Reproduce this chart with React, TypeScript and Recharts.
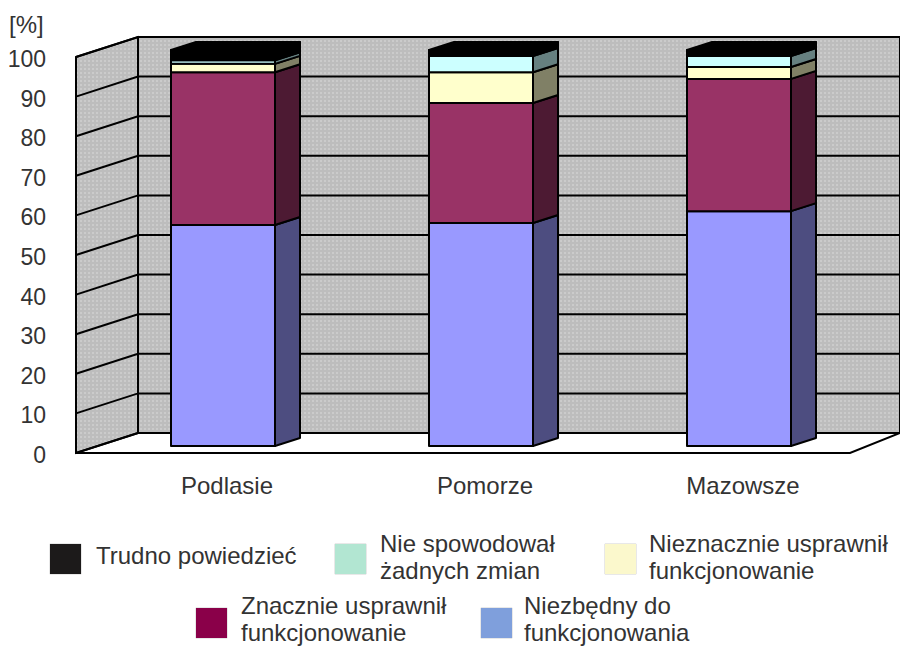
import { BarChart, Bar, XAxis, YAxis, CartesianGrid, Legend } from "recharts";

const regions = ["Podlasie", "Pomorze", "Mazowsze"];
const niezbedny = [55.8, 56.3, 59.3];
const znacznie = [38.6, 30.3, 33.4];
const nieznacznie = [2.1, 7.8, 3.0];
const nieSpowodowal = [0.9, 4.1, 2.8];
const trudno = [2.6, 1.5, 1.5];
const yTicks = [0, 10, 20, 30, 40, 50, 60, 70, 80, 90, 100];

const seriesKeys = ["niezbedny", "znacznie", "nieznacznie", "nieSpowodowal", "trudno"];
const frontColors = ["#9999ff", "#993366", "#ffffcc", "#ccffff", "#000000"];
const sideColors = ["#4d4d80", "#4d1a33", "#808066", "#668080", "#000000"];

const legendRows = [
  { label: ["Trudno powiedzieć"], color: "#1c1a1a", left: 50, top: 544, textTop: 542, textLeft: 96 },
  { label: ["Nie spowodował", "żadnych zmian"], color: "#b2e6d2", left: 335, top: 544, textTop: 530, textLeft: 380 },
  { label: ["Nieznacznie usprawnił", "funkcjonowanie"], color: "#fbf8cc", left: 605, top: 544, textTop: 530, textLeft: 649 },
  { label: ["Znacznie usprawnił", "funkcjonowanie"], color: "#8a0049", left: 196, top: 608, textTop: 592, textLeft: 241 },
  { label: ["Niezbędny do", "funkcjonowania"], color: "#7f9fdc", left: 481, top: 608, textTop: 592, textLeft: 524 },
];

const data = regions.map((name, i) => ({
  name,
  niezbedny: niezbedny[i],
  znacznie: znacznie[i],
  nieznacznie: nieznacznie[i],
  nieSpowodowal: nieSpowodowal[i],
  trudno: trudno[i],
}));

const FONT = "'Liberation Sans', Arial, sans-serif";
const TEXT = "#333333";

// fake 3d offsets: bars stand part way into the box
const BAR_DX = 25;
const BAR_DY = 8;
const LEFT_X = 76;
const BACK_X = 138;
const FRONT_SHIFT = 7;
const BACK_SHIFT = 13;

const Block = (props: any, index: number) => {
  const { x, y, width, height } = props;
  const r = x + width;
  const b = y + height;
  return (
    <g stroke="#000" strokeWidth={2} strokeLinejoin="round">
      <polygon
        points={`${r},${y} ${r + BAR_DX},${y - BAR_DY} ${r + BAR_DX},${b - BAR_DY} ${r},${b}`}
        fill={sideColors[index]}
      />
      {index === 4 && (
        <polygon
          points={`${x},${y} ${x + BAR_DX},${y - BAR_DY} ${r + BAR_DX},${y - BAR_DY} ${r},${y}`}
          fill="#000"
        />
      )}
      <rect x={x} y={y} width={width} height={height} fill={frontColors[index]} />
    </g>
  );
};

// one gridline: runs up the side wall and along the back wall
// the first one also paints the walls, so they sit under all the lines
const WallLine = (props: any) => {
  const y = props.y1;
  return (
    <g key={props.key}>
      {props.index === 0 && (
        <g>
          <polygon points="138,37 900,37 900,433 138,433" fill="url(#wall)" stroke="#000" strokeWidth={2} />
          <polygon points="76,57 138,37 138,433 76,453" fill="url(#wall)" stroke="#000" strokeWidth={2} />
          <polyline points="76,453 850,453 900,433" fill="none" stroke="#000" strokeWidth={2} />
        </g>
      )}
      <polyline
        points={`${LEFT_X},${y + FRONT_SHIFT} ${BACK_X},${y - BACK_SHIFT} 900,${y - BACK_SHIFT}`}
        fill="none"
        stroke="#000"
        strokeWidth={2}
      />
    </g>
  );
};

const YTick = ({ y, payload }: any) => (
  <text x={46} y={y + FRONT_SHIFT + 10} textAnchor="end" fontSize={23} fontFamily={FONT} fill={TEXT}>
    {payload.value}
  </text>
);

const ChartLegend = () => (
  <div>
    {legendRows.map(item => (
      <div key={item.label[0]}>
        <div
          style={{
            position: "absolute",
            left: item.left,
            top: item.top,
            width: 31,
            height: 30,
            background: item.color,
            boxShadow: "0 0 1px #777",
          }}
        />
        <div
          style={{
            position: "absolute",
            left: item.textLeft,
            top: item.textTop,
            fontFamily: FONT,
            fontSize: 24,
            lineHeight: "27px",
            color: TEXT,
            whiteSpace: "nowrap",
            textAlign: "left",
          }}
        >
          {item.label.map(line => (
            <div key={line}>{line}</div>
          ))}
        </div>
      </div>
    ))}
  </div>
);

export default function App() {
  return (
    <div style={{ position: "absolute", left: 0, top: 0, width: 900, height: 646, overflow: "hidden", background: "#fff" }}>
      <div style={{ position: "absolute", left: 9, top: 11, fontFamily: FONT, fontSize: 24, color: TEXT }}>[%]</div>
      <BarChart
        width={900}
        height={646}
        data={data}
        margin={{ top: 50, right: 32, bottom: 170, left: 0 }}
        barSize={104}
      >
        <defs>
          <pattern id="wall" width="4" height="4" patternUnits="userSpaceOnUse">
            <rect width="4" height="4" fill="#bdbdbd" />
            <rect width="2" height="2" fill="#cbcbcb" />
          </pattern>
        </defs>
        <CartesianGrid vertical={false} horizontal={WallLine} />
        <XAxis
          dataKey="name"
          axisLine={false}
          tickLine={false}
          tickMargin={25}
          dx={4}
          tick={{ fontSize: 24, fontFamily: FONT, fill: TEXT }}
        />
        <YAxis
          width={94}
          domain={[0, 100]}
          ticks={yTicks}
          interval={0}
          axisLine={false}
          tickLine={false}
          tick={YTick}
        />
        <Legend content={ChartLegend} wrapperStyle={{ position: "absolute", left: 0, top: 0, height: 0, width: 0 }} />
        {seriesKeys.map((key, i) => (
          <Bar
            key={key}
            dataKey={key}
            stackId="a"
            isAnimationActive={false}
            shape={(p: any) => Block(p, i)}
          />
        ))}
      </BarChart>
    </div>
  );
}
